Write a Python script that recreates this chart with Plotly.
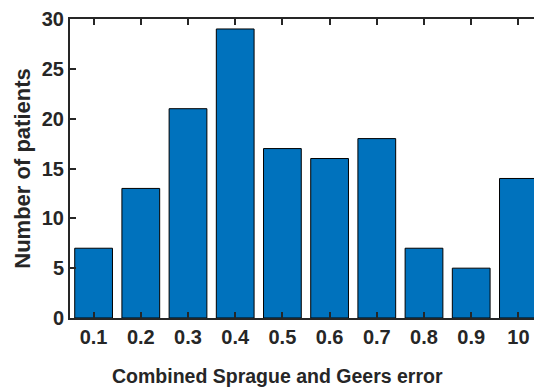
import plotly.graph_objects as go

categories = ["0.1", "0.2", "0.3", "0.4", "0.5", "0.6", "0.7", "0.8", "0.9", "10"]
counts = [7, 13, 21, 29, 17, 16, 18, 7, 5, 14]
positions = list(range(1, len(categories) + 1))
y_ticks = [0, 5, 10, 15, 20, 25, 30]

fig = go.Figure()
fig.add_trace(go.Bar(
    x=positions, y=counts, width=0.8,
    marker=dict(color="#0072BD", line=dict(color="black", width=1)),
))

fam = "Liberation Sans, Arial, sans-serif"
tickfont = dict(family=fam, size=20, color="#262626")
titlefont = dict(family=fam, size=22, color="#262626")
xtitlefont = dict(family=fam, size=19.5, color="#262626")
plot_left, plot_right, plot_top, plot_bottom = 70, 534, 19, 318
fig.update_layout(
    width=534, height=390,
    margin=dict(l=plot_left, r=534 - plot_right, t=plot_top, b=390 - plot_bottom, autoexpand=False),
    paper_bgcolor="white", plot_bgcolor="white",
    showlegend=False,
    annotations=[dict(
        text="<b>Combined Sprague and Geers error</b>",
        xref="paper", yref="paper",
        x=(277 - plot_left) / (plot_right - plot_left),
        y=-(376 - plot_bottom) / (plot_bottom - plot_top),
        xanchor="center", yanchor="middle", showarrow=False, font=xtitlefont,
    )],
)
fig.update_xaxes(
    range=[0.5, 0.5 + (plot_right - plot_left) / 47.2],
    tickvals=positions, ticktext=[f"<b>{c}</b>" for c in categories],
    tickfont=tickfont, automargin=False,
    ticks="inside", ticklen=6, tickwidth=2, tickcolor="#262626",
    showline=True, linewidth=2, linecolor="#262626", mirror="ticks",
    showgrid=False, zeroline=False,
)
fig.update_yaxes(
    range=[0, 30], tickvals=y_ticks,
    ticktext=[f"<b>{v}</b>" for v in y_ticks],
    tickfont=tickfont, automargin=False,
    ticks="inside", ticklen=6, tickwidth=2, tickcolor="#262626",
    showline=True, linewidth=2, linecolor="#262626", mirror=False,
    showgrid=False, zeroline=False,
    title=dict(text="<b>Number of patients</b>", font=titlefont, standoff=5),
)
fig.write_html("out.html")
